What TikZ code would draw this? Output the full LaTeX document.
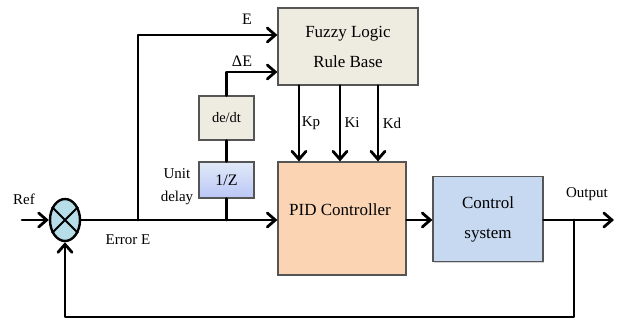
\documentclass[tikz,border=0pt]{standalone}
\usepackage{fontspec}
\setmainfont{Liberation Serif}
\usetikzlibrary{arrows.meta,shapes.geometric,shadows}

\definecolor{fuzzyfill}{HTML}{EEECE1}
\definecolor{pidfill}{HTML}{FBD4B4}
\definecolor{plantfill}{HTML}{C6D9F1}
\definecolor{sumfill}{HTML}{B7DEE8}
\definecolor{boxline}{HTML}{555555}

\tikzset{
  blockbox/.style={draw=boxline, line width=1.2pt, inner sep=0pt, align=center,
    drop shadow={shadow xshift=1.2pt, shadow yshift=-1.2pt, opacity=0.35}},
  wire/.style={line width=2.8pt, line cap=round, line join=round},
  sig/.style={wire, -{Straight Barb[length=8pt,width=14pt,line cap=round]}},
  lbl/.style={inner sep=0pt, font=\fontsize{15}{18}\selectfont}
}

\begin{document}
\begin{tikzpicture}[x=1pt, y=-1pt, font=\fontsize{17}{20}\selectfont]
\useasboundingbox (0,0) rectangle (622,324);

% blocks
\node[blockbox, fill=fuzzyfill, minimum width=140pt, minimum height=77pt,
      font=\fontsize{17}{30}\selectfont] (fuzzy) at (348,46.5) {Fuzzy Logic\\Rule Base};
\node[blockbox, fill=fuzzyfill, minimum width=55pt, minimum height=44pt,
      font=\fontsize{14.5}{17}\selectfont] (dedt) at (226.5,118) {de/dt};
\node[blockbox, top color=plantfill!55!white, bottom color=plantfill!80!blue!70,
      minimum width=55pt, minimum height=36pt,
      font=\fontsize{16}{18}\selectfont] (delay) at (226.5,180) {1/Z};
\node[blockbox, fill=pidfill, minimum width=128pt, minimum height=113pt] (pid) at (342,218.5) {};
\node[inner sep=0pt] (pidtxt) at (340,210) {PID Controller};
\node[blockbox, fill=plantfill, minimum width=110pt, minimum height=85pt,
      font=\fontsize{17}{30}\selectfont] (plant) at (488,219) {Control\\system};

% summing junction
\node[ellipse, draw=black, line width=2.4pt, fill=sumfill, minimum width=30pt,
      minimum height=42pt, inner sep=0pt] (sum) at (65,220) {};
\draw[line width=2pt] (sum.45) -- (sum.225) (sum.135) -- (sum.315);

% helper points
\coordinate (ref) at (22,220);
\coordinate (tapE) at (138,220);
\coordinate (levE) at (0,35);
\coordinate (levD) at (0,72);
\coordinate (kp) at (299,0);
\coordinate (ki) at (340,0);
\coordinate (kd) at (378,0);
\coordinate (tapY) at (574,220);
\coordinate (outEnd) at (614,220);
\coordinate (fbLow) at (0,317);

% forward path
\draw[sig] (ref) -- (sum.west);
\draw[sig] (sum.east) -- (sum.east -| pid.west);
\draw[sig] (tapE) |- (levE -| fuzzy.west);
\draw[wire] (delay.south |- sum.east) -- (delay.south);
\draw[wire] (delay.north) -- (dedt.south);
\draw[sig] (dedt.north) |- (levD -| fuzzy.west);
\draw[sig] (kp |- fuzzy.south) -- (kp |- pid.north);
\draw[sig] (ki |- fuzzy.south) -- (ki |- pid.north);
\draw[sig] (kd |- fuzzy.south) -- (kd |- pid.north);
\draw[sig] (sum.east -| pid.east) -- (sum.east -| plant.west);
\draw[sig] (sum.east -| plant.east) -- (outEnd);

% feedback path
\draw[sig] (tapY) |- (fbLow -| sum.south) -- (sum.south);

% labels
\node[lbl] (lref) at (24,199) {Ref};
\node[lbl, font=\fontsize{16}{18}\selectfont] (lE) at (247,19) {E};
\node[lbl, font=\fontsize{16}{18}\selectfont] (lDE) at (242,61) {ΔE};
\node[lbl] (lkp) at (311,123) {Kp};
\node[lbl] (lki) at (352,123) {Ki};
\node[lbl] (lkd) at (392,123) {Kd};
\node[lbl, align=center, font=\fontsize{15}{23}\selectfont] (lunit) at (177,187) {Unit\\delay};
\node[lbl] (lerr) at (128,240) {Error E};
\node[lbl] (lout) at (587,194) {Output};
\end{tikzpicture}
\end{document}
